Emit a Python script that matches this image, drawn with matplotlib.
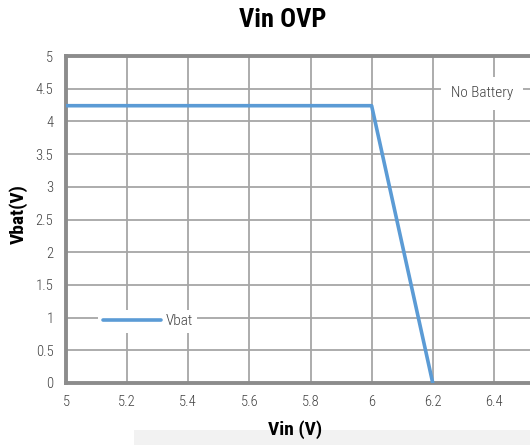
import matplotlib
matplotlib.use("Agg")
import matplotlib.pyplot as plt
from matplotlib.patches import Rectangle

# data
vin = [5.0, 6.0, 6.2]
vbat = [4.24, 4.24, 0.0]
x_ticks = [5, 5.2, 5.4, 5.6, 5.8, 6, 6.2, 6.4, 6.6]
x_labels = ["5", "5.2", "5.4", "5.6", "5.8", "6", "6.2", "6.4", ""]
y_ticks = [0, 0.5, 1, 1.5, 2, 2.5, 3, 3.5, 4, 4.5, 5]
y_labels = ["0", "0.5", "1", "1.5", "2", "2.5", "3", "3.5", "4", "4.5", "5"]

plt.rcParams["font.family"] = ["Roboto Condensed", "DejaVu Sans"]

fig = plt.figure(figsize=(5.3, 4.45), dpi=100)
W, H = 530, 445
# axes run past the right edge of the picture, as in the reference
x0, x1, y_top, y_bot = 66, 555, 56, 383
ax = fig.add_axes([x0 / W, 1 - y_bot / H, (x1 - x0) / W, (y_bot - y_top) / H])

ax.plot(vin, vbat, color="#5b9bd5", lw=2.6, solid_capstyle="round", label="Vbat", zorder=3)

ax.set_xlim(5, 6.6)
ax.set_ylim(0, 5)
ax.set_xticks(x_ticks)
ax.set_xticklabels(x_labels)
ax.set_yticks(y_ticks)
ax.set_yticklabels(y_labels)
ax.tick_params(length=0, labelsize=10.5, colors="#404040", pad=9)
for lbl in ax.get_xticklabels() + ax.get_yticklabels():
    lbl.set_fontweight(300)
ax.grid(True, color="#a6a6a6", lw=1.3)
ax.set_axisbelow(True)
for side in ["left", "bottom", "top"]:
    ax.spines[side].set_color("#8c8c8c")
    ax.spines[side].set_linewidth(2.8)
ax.spines["right"].set_visible(False)

fig.text(295 / W, 1 - 430 / H, "Vin (V)", ha="center", va="center", fontsize=14, fontweight="bold")
fig.text(18 / W, 1 - 214 / H, "Vbat(V)", ha="center", va="center", rotation=90,
         fontsize=14, fontweight="bold")
fig.text(283 / W, 1 - 20 / H, "Vin OVP", ha="center", va="center", fontsize=19, fontweight="bold")

leg = ax.legend(loc="lower left", bbox_to_anchor=(0.05, 0.13), frameon=True,
                prop={"size": 11, "weight": 300},
                handlelength=3.8, handletextpad=0.3, borderpad=0.3, labelcolor="#404040")
leg.get_frame().set_facecolor("white")
leg.get_frame().set_edgecolor("none")
leg.get_frame().set_alpha(1)

ax.text(6.36, 4.43, "No Battery", ha="center", va="center", fontsize=11, fontweight=300,
        color="#404040", bbox=dict(facecolor="white", edgecolor="none", pad=7))

# faint grey band under the x label
fig.patches.append(Rectangle((134 / W, 0), 1, 15 / H, transform=fig.transFigure,
                             facecolor="#f2f2f2", edgecolor="none", zorder=0))

fig.savefig("out.png", dpi=100)
